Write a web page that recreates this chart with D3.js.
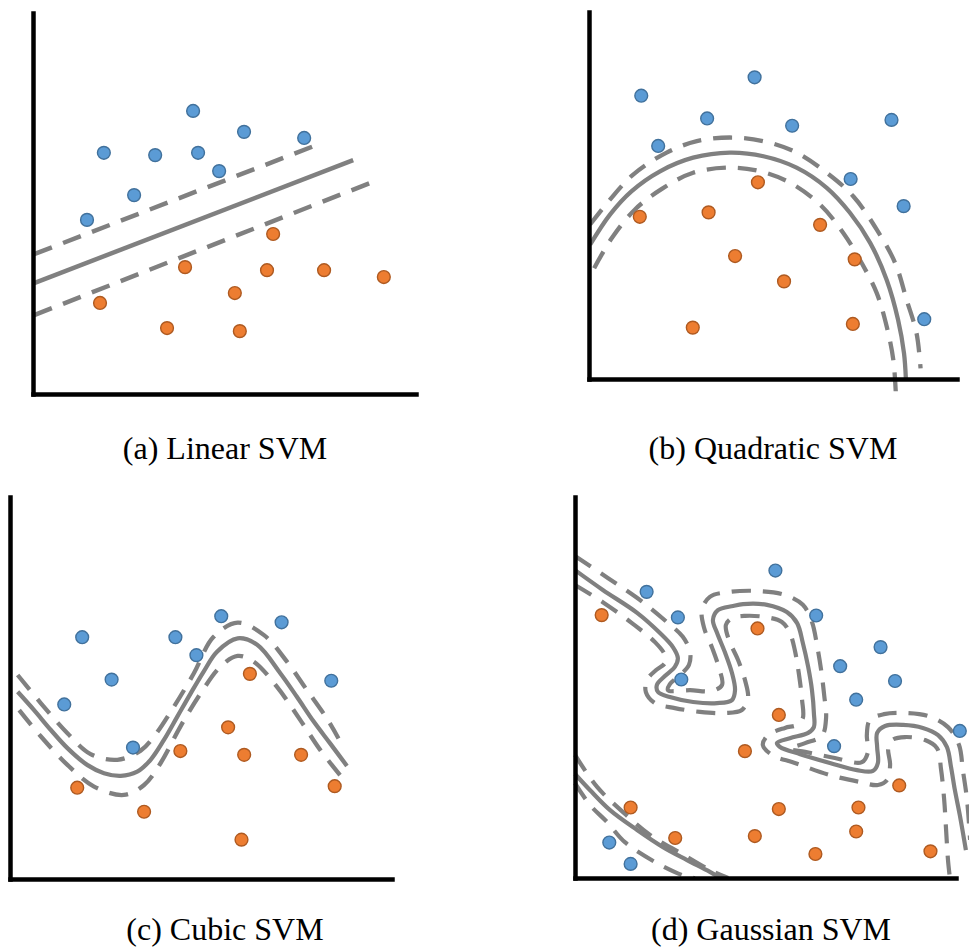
<!DOCTYPE html>
<html>
<head>
<meta charset="utf-8">
<script src="https://cdn.jsdelivr.net/npm/d3@7"></script>
<style>
  html, body { margin: 0; padding: 0; background: #ffffff; }
</style>
</head>
<body>
<svg id="fig" width="969" height="949"></svg>
<script>
// ---------- Data (each panel uses a 0–10 feature space on both axes) ----------

const captions = ["(a) Linear SVM", "(b) Quadratic SVM", "(c) Cubic SVM", "(d) Gaussian SVM"];

// (a) linear separator
const linearBlue = [[1.41,4.57],[1.85,6.33],[2.64,5.22],[3.19,6.27],[4.18,7.43],[4.31,6.33],[4.86,5.85],[5.51,6.88],[7.08,6.72]];
const linearOrange = [[1.75,2.39],[3.50,1.73],[3.97,3.33],[5.27,2.65],[5.40,1.65],[6.27,4.20],[6.11,3.25],[7.60,3.25],[9.16,3.07]];
const linearBoundary = [[0.03,2.91],[8.36,6.14]];
const linearMarginUpper = [[0.03,3.67],[7.47,6.56]];
const linearMarginLower = [[0.03,2.07],[8.93,5.59]];

// (b) quadratic separator
const quadBlue = [[1.42,7.72],[4.50,8.22],[3.21,7.10],[5.52,6.90],[8.22,7.06],[1.88,6.35],[7.11,5.45],[8.55,4.71],[9.11,1.63]];
const quadOrange = [[1.38,4.42],[3.25,4.54],[4.59,5.36],[6.28,4.20],[3.97,3.35],[5.30,2.66],[7.22,3.26],[2.82,1.40],[7.17,1.50]];
const quadBoundary = [[0.03,3.66],[0.57,4.48],[1.16,5.12],[1.93,5.66],[2.83,6.03],[3.83,6.17],[4.74,6.07],[5.64,5.76],[6.46,5.21],[7.09,4.53],[7.64,3.71],[8.09,2.70],[8.40,1.61],[8.56,0.70],[8.61,0.02]];
const quadMarginOuter = [[0.03,4.21],[0.57,4.89],[1.20,5.57],[2.11,6.17],[2.93,6.48],[3.83,6.58],[4.74,6.48],[5.64,6.17],[6.46,5.62],[7.18,4.98],[7.82,4.07],[8.32,3.16],[8.63,2.16],[8.90,1.25],[9.01,0.29]];
const quadMarginInner = [[0.14,3.02],[0.62,3.84],[1.25,4.62],[1.98,5.18],[2.83,5.62],[3.83,5.76],[4.65,5.66],[5.46,5.35],[6.28,4.75],[6.91,3.98],[7.41,3.16],[7.82,2.34],[8.09,1.43],[8.27,0.52],[8.34,-0.44]];

// (c) cubic separator
const cubicBlue = [[1.89,6.33],[1.42,4.57],[2.66,5.22],[3.22,3.44],[4.33,6.33],[4.88,5.86],[5.53,6.88],[7.11,6.72],[8.41,5.19]];
const cubicOrange = [[1.76,2.39],[3.51,1.76],[4.46,3.35],[5.71,3.97],[6.28,5.37],[6.13,3.25],[6.06,1.03],[7.62,3.25],[8.50,2.43]];
const cubicBoundary = [[0.20,4.90],[0.63,4.42],[1.07,3.90],[1.51,3.42],[2.03,2.98],[2.46,2.77],[2.90,2.70],[3.33,2.81],[3.68,3.12],[4.03,3.64],[4.38,4.25],[4.73,4.86],[5.07,5.43],[5.42,5.95],[5.96,6.30],[6.47,6.13],[7.08,5.38],[7.51,4.77],[7.95,4.12],[8.38,3.55],[8.82,2.96]];
const cubicMarginUpper = [[0.20,5.34],[0.81,4.60],[1.51,3.81],[2.11,3.27],[2.81,3.12],[3.42,3.36],[3.77,3.73],[4.29,4.51],[4.81,5.38],[5.33,6.34],[5.96,6.71],[6.64,6.39],[7.25,5.69],[7.77,4.95],[8.29,4.21],[8.60,3.68]];
const cubicMarginLower = [[0.24,4.42],[0.81,3.73],[1.51,2.98],[2.20,2.42],[2.98,2.20],[3.51,2.46],[3.94,3.03],[4.46,3.99],[4.99,4.86],[5.51,5.56],[5.96,5.84],[6.38,5.69],[6.99,5.03],[7.60,4.16],[8.12,3.38],[8.64,2.72]];

// (d) Gaussian (RBF) separator: a winding upper boundary and a lower-left arc
const gaussBlue = [[5.26,8.07],[1.88,7.51],[2.70,6.84],[6.33,6.89],[2.79,5.21],[8.02,6.06],[6.96,5.56],[8.40,5.17],[7.38,4.68],[6.80,3.46],[10.10,3.86],[0.90,0.93],[1.46,0.37]];
const gaussOrange = [[0.70,6.90],[4.79,6.55],[5.35,4.28],[4.46,3.33],[8.51,2.43],[1.46,1.85],[5.35,1.81],[7.44,1.85],[2.63,1.05],[4.72,1.10],[7.38,1.22],[6.31,0.63],[9.33,0.70]];
const gaussBoundary = [[0.00,8.08],[0.73,7.56],[1.63,6.96],[2.23,6.43],[2.57,6.06],[2.70,5.77],[2.62,5.54],[2.36,5.30],[2.15,5.07],[2.18,4.88],[2.49,4.75],[3.10,4.62],[3.73,4.59],[4.12,4.67],[4.20,4.93],[4.12,5.38],[3.94,5.91],[3.73,6.43],[3.62,6.77],[3.75,7.03],[4.15,7.14],[4.41,7.19],[5.04,7.17],[5.56,6.98],[5.83,6.69],[5.98,6.17],[6.12,5.54],[6.22,4.93],[6.27,4.33],[6.27,3.96],[6.12,3.81],[5.64,3.67],[5.30,3.54],[5.38,3.44],[5.91,3.25],[6.69,3.02],[7.40,2.83],[7.82,2.81],[7.95,3.02],[7.93,3.44],[7.93,3.81],[8.14,3.99],[8.61,4.02],[9.13,3.94],[9.53,3.75],[9.76,3.44],[9.87,2.91],[9.97,2.31],[10.10,1.65],[10.26,0.73]];
const gaussMarginBlue = [[0.00,8.45],[0.87,7.87],[1.78,7.24],[2.41,6.72],[2.83,6.33],[3.02,5.93],[2.99,5.59],[2.76,5.33],[2.49,5.09],[2.44,4.93],[3.02,4.93],[3.60,4.91],[3.86,5.07],[3.78,5.51],[3.60,6.04],[3.39,6.56],[3.33,7.03],[3.54,7.38],[4.07,7.51],[4.86,7.53],[5.51,7.43],[5.98,7.17],[6.22,6.72],[6.35,6.12],[6.46,5.46],[6.54,4.80],[6.59,4.20],[6.48,3.73],[6.04,3.54],[5.64,3.39],[6.04,3.31],[6.82,3.15],[7.53,3.04],[7.69,3.31],[7.66,3.75],[7.74,4.15],[8.11,4.30],[8.66,4.33],[9.27,4.25],[9.79,3.96],[10.08,3.49],[10.18,2.83],[10.29,2.05],[10.37,1.00]];
const gaussMarginOrange = [[0.00,7.69],[0.73,7.24],[1.52,6.67],[2.10,6.19],[2.36,5.85],[2.36,5.64],[2.13,5.46],[1.89,5.20],[1.86,4.88],[2.10,4.59],[2.62,4.46],[3.28,4.36],[3.94,4.33],[4.38,4.41],[4.54,4.72],[4.46,5.20],[4.28,5.72],[4.04,6.25],[3.96,6.64],[4.12,6.82],[4.46,6.88],[4.99,6.85],[5.43,6.72],[5.64,6.43],[5.77,5.98],[5.88,5.33],[5.96,4.67],[5.98,4.20],[5.83,4.02],[5.51,3.94],[5.07,3.75],[4.93,3.49],[5.17,3.23],[5.77,3.02],[6.69,2.70],[7.48,2.52],[7.95,2.44],[8.19,2.57],[8.27,2.97],[8.22,3.41],[8.32,3.62],[8.66,3.70],[9.19,3.62],[9.50,3.41],[9.61,2.83],[9.69,2.05],[9.74,1.26],[9.79,0.47],[9.84,0.00]];
const gaussArcBoundary = [[0.00,2.73],[0.39,2.31],[0.92,1.78],[1.63,1.26],[2.31,0.81],[2.94,0.47],[3.54,0.16],[3.81,0.00]];
const gaussArcMarginUpper = [[0.00,3.23],[0.58,2.39],[1.26,1.73],[1.97,1.13],[2.76,0.66],[3.54,0.21],[4.02,0.00]];
const gaussArcMarginLower = [[0.00,2.49],[0.39,1.92],[0.84,1.47],[1.31,0.94],[2.10,0.42],[2.89,0.05],[3.15,0.00]];

// ---------- Styling ----------
const GREY = "#808080";
const BLUE = { fill: "#5b9bd5", stroke: "#41719c" };
const ORANGE = { fill: "#ed7d31", stroke: "#ae5a21" };

// Panel frames (pixel extents of each pair of axes) and caption anchors
const panels = [
  { frame: { left: 33,  right: 416, bottom: 394, top: 13 },  caption: captions[0], cx: 225, cy: 459,
    blue: linearBlue, orange: linearOrange, boundaries: [linearBoundary], margins: [linearMarginUpper, linearMarginLower],
    curve: d3.curveLinear, lw: 4.5 },
  { frame: { left: 589, right: 957, bottom: 379, top: 12 },  caption: captions[1], cx: 773, cy: 459,
    blue: quadBlue, orange: quadOrange, boundaries: [quadBoundary], margins: [quadMarginOuter, quadMarginInner],
    curve: d3.curveCatmullRom.alpha(0.5), lw: 4.3 },
  { frame: { left: 10,  right: 392, bottom: 879, top: 497 }, caption: captions[2], cx: 225, cy: 940,
    blue: cubicBlue, orange: cubicOrange, boundaries: [cubicBoundary], margins: [cubicMarginUpper, cubicMarginLower],
    curve: d3.curveCatmullRom.alpha(0.5), lw: 4.3 },
  { frame: { left: 575, right: 956, bottom: 878, top: 497 }, caption: captions[3], cx: 771, cy: 940,
    blue: gaussBlue, orange: gaussOrange, boundaries: [gaussBoundary, gaussArcBoundary],
    margins: [gaussMarginBlue, gaussMarginOrange, gaussArcMarginUpper, gaussArcMarginLower],
    curve: d3.curveCatmullRom.alpha(0.5), lw: 4.2 }
];

const svg = d3.select("#fig");

function drawPanel(p) {
  const f = p.frame;
  const x = d3.scaleLinear().domain([0, 10]).range([f.left, f.right]);
  const y = d3.scaleLinear().domain([0, 10]).range([f.bottom, f.top]);
  const line = d3.line().x(d => x(d[0])).y(d => y(d[1])).curve(p.curve);

  const g = svg.append("g");

  // margin lines (dashed) and decision boundary (solid)
  g.append("g").selectAll("path").data(p.margins).join("path")
    .attr("d", line)
    .attr("fill", "none")
    .attr("stroke", GREY)
    .attr("stroke-width", p.lw)
    .attr("stroke-dasharray", "19,12");

  g.append("g").selectAll("path").data(p.boundaries).join("path")
    .attr("d", line)
    .attr("fill", "none")
    .attr("stroke", GREY)
    .attr("stroke-width", p.lw);

  // bare axes: only the thick domain lines
  const xAxis = g.append("g").attr("transform", `translate(0,${y(0)})`)
    .call(d3.axisBottom(x).ticks(0).tickSizeOuter(0));
  const yAxis = g.append("g").attr("transform", `translate(${x(0)},0)`)
    .call(d3.axisLeft(y).ticks(0).tickSizeOuter(0));
  [xAxis, yAxis].forEach(a => {
    a.selectAll(".tick").remove();
    a.select(".domain")
      .attr("stroke", "#000")
      .attr("stroke-width", 4.5)
      .attr("stroke-linecap", "square");
  });

  // the two classes
  const classes = [[p.blue, BLUE], [p.orange, ORANGE]];
  classes.forEach(([pts, col]) => {
    g.append("g").selectAll("circle").data(pts).join("circle")
      .attr("cx", d => x(d[0]))
      .attr("cy", d => y(d[1]))
      .attr("r", 6.4)
      .attr("fill", col.fill)
      .attr("stroke", col.stroke)
      .attr("stroke-width", 1.4);
  });

  // caption
  svg.append("text")
    .attr("x", p.cx)
    .attr("y", p.cy)
    .attr("text-anchor", "middle")
    .attr("font-family", "'Liberation Serif', 'Times New Roman', serif")
    .attr("font-size", 32)
    .attr("fill", "#000")
    .text(p.caption);
}

panels.forEach(drawPanel);
</script>
</body>
</html>
